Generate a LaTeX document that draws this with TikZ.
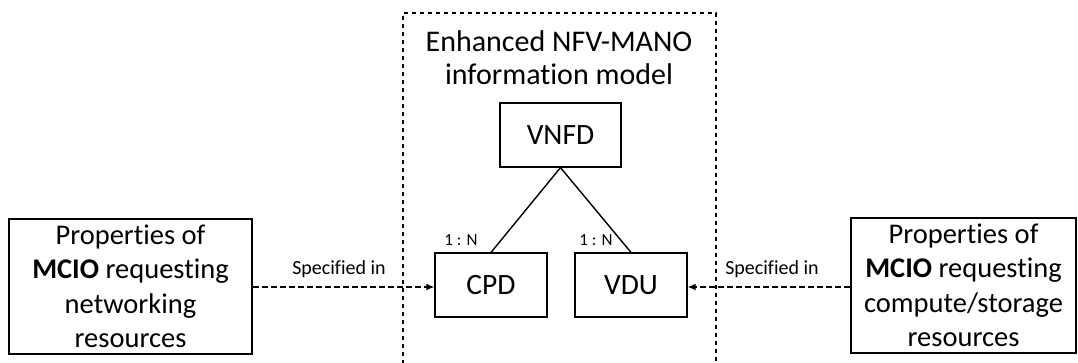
\documentclass[tikz,border=0pt]{standalone}
\usepackage{fontspec}
\setmainfont[Ligatures=NoCommon]{Carlito}
\usetikzlibrary{arrows.meta}
\tikzset{
  box/.style={draw, line width=1.2pt, rectangle, inner sep=0pt, align=center},
  bigbox/.style={box, minimum height=135pt, font=\fontsize{28.5}{34.5}\selectfont},
  smallbox/.style={box, minimum width=112pt, minimum height=64pt, font=\fontsize{29.5}{32}\selectfont},
  spec/.style={draw, dashed, dash pattern=on 6pt off 3pt, line width=1.7pt, -{Latex[length=8pt,width=7pt]}},
  rel/.style={draw, line width=1.4pt},
  lbl/.style={font=\fontsize{20}{22}\selectfont, inner sep=0pt},
  card/.style={font=\fontsize{17}{20}\selectfont, inner sep=0pt}
}
\begin{document}
\begin{tikzpicture}[x=1pt,y=-1pt]
\useasboundingbox (0,0) rectangle (1078,362);
\draw[dashed, dash pattern=on 4pt off 4pt, line width=1.3pt] (403,380) -- (403,13) -- (716,13) -- (716,380);
\node[font=\fontsize{30}{33}\selectfont, align=center, inner sep=0pt] (title) at (559,58) {Enhanced NFV-MANO\\information model};
\node[smallbox, minimum width=121pt] (vnfd) at (560.5,135) {VNFD};
\node[smallbox] (cpd) at (491,285) {CPD};
\node[smallbox] (vdu) at (631,285) {VDU};
\node[bigbox, minimum width=243pt] (left) at (130.5,286.5) {Properties of\\\textbf{MCIO} requesting\\networking\\resources};
\node[bigbox, minimum width=225pt] (right) at (963.5,285.5) {Properties of\\\textbf{MCIO} requesting\\compute/storage\\resources};
\draw[rel] (vnfd.south) -- (cpd.north);
\draw[rel] (vnfd.south) -- (vdu.north);
\node[card] (c1) at (461,240) {1 : N};
\node[card] (c2) at (596,240) {1 : N};
\draw[spec] (left.east |- 0,287) -- (cpd.west |- 0,287);
\draw[spec] (right.west |- 0,287) -- (vdu.east |- 0,287);
\node[lbl] (s1) at (339,269) {Specified in};
\node[lbl] (s2) at (772,269) {Specified in};
\end{tikzpicture}
\end{document}
